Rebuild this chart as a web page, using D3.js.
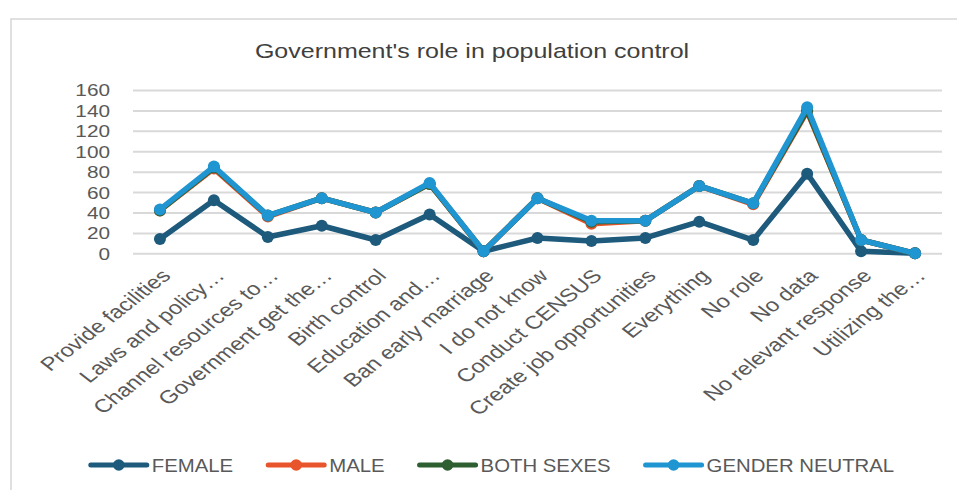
<!DOCTYPE html>
<html>
<head>
<meta charset="utf-8">
<script src="https://cdn.jsdelivr.net/npm/d3@7"></script>
<style>
  html, body { margin: 0; padding: 0; background: #fff; }
  svg { display: block; font-family: "Liberation Sans", Arial, sans-serif; }
</style>
</head>
<body>
<svg id="chart" width="957" height="490"></svg>
<script>
// Responses on the government's role in population control
const categories = [
  "Provide facilities", "Laws and policy…", "Channel resources to…",
  "Government get the…", "Birth control", "Education and…",
  "Ban early marriage", "I do not know", "Conduct CENSUS",
  "Create job opportunities", "Everything", "No role", "No data",
  "No relevant response", "Utilizing the…"
];
const female        = [14, 52, 16, 27, 13, 38, 2, 15, 12, 15, 31, 13, 78, 2, 0];
const male          = [42, 83, 36, 54, 40, 68, 2, 54, 29, 32, 66, 48, 139, 13, 0];
const bothSexes     = [42, 84, 37, 54, 40, 68, 2, 54, 31, 32, 66, 49, 140, 13, 0];
const genderNeutral = [43, 85, 37, 54, 40, 69, 2, 54, 32, 32, 66, 49, 143, 13, 0];
const seriesNames   = ["FEMALE", "MALE", "BOTH SEXES", "GENDER NEUTRAL"];
const yTicks        = [0, 20, 40, 60, 80, 100, 120, 140, 160];
const titleText     = "Government's role in population control";

const seriesColors = ["#1d5a7c", "#e8542b", "#2d5f30", "#1f95d1"];
const seriesValues = [female, male, bothSexes, genderNeutral];

const svg = d3.select("#chart");
const W = 957, H = 490;
const plot = { left: 133, right: 942, top: 90, bottom: 253.3 };

svg.append("rect").attr("width", W).attr("height", H).attr("fill", "#fff");

// chart frame
svg.append("rect")
  .attr("x", 11).attr("y", 19).attr("width", 1000).attr("height", 1000)
  .attr("fill", "none").attr("stroke", "#d9d9d9").attr("stroke-width", 1.6);

// title
svg.append("text")
  .attr("transform", `translate(472,58) scale(1.22,1)`)
  .attr("text-anchor", "middle")
  .attr("font-size", 20.5)
  .attr("fill", "#404040")
  .text(titleText);

const x = d3.scaleBand().domain(categories).range([plot.left, plot.right]);
const y = d3.scaleLinear().domain([0, 160]).range([plot.bottom, plot.top]);

// horizontal gridlines
const yAxis = d3.axisLeft(y).tickValues(yTicks).tickSize(-(plot.right - plot.left)).tickPadding(0);
const gy = svg.append("g").attr("transform", `translate(${plot.left},0)`).call(yAxis);
gy.select(".domain").remove();
gy.selectAll(".tick line").attr("stroke", "#d9d9d9").attr("stroke-width", 2);
gy.selectAll(".tick text")
  .attr("x", null).attr("dy", "0.36em")
  .attr("transform", `translate(-23,0) scale(1.26,1)`)
  .attr("text-anchor", "end")
  .attr("font-size", 16.5)
  .attr("font-family", "Liberation Sans, Arial, sans-serif")
  .attr("fill", "#595959");

// category labels
const xAxis = d3.axisBottom(x).tickSize(0).tickPadding(0);
const gx = svg.append("g").attr("transform", `translate(0,${plot.bottom})`).call(xAxis);
gx.select(".domain").remove();
gx.selectAll(".tick text")
  .attr("y", null).attr("dy", "0.35em")
  .attr("transform", `translate(6,19) scale(1.28,1) rotate(-45)`)
  .attr("text-anchor", "end")
  .attr("font-size", 18.6)
  .attr("font-family", "Liberation Sans, Arial, sans-serif")
  .attr("fill", "#595959");

// series lines and markers
const line = d3.line()
  .x((d, i) => x(categories[i]) + x.bandwidth() / 2)
  .y(d => y(d));

seriesValues.forEach((vals, s) => {
  const g = svg.append("g");
  g.append("path")
    .datum(vals)
    .attr("d", line)
    .attr("fill", "none")
    .attr("stroke", seriesColors[s])
    .attr("stroke-width", 5.5)
    .attr("stroke-linejoin", "round");
  g.selectAll("circle").data(vals).join("circle")
    .attr("cx", (d, i) => x(categories[i]) + x.bandwidth() / 2)
    .attr("cy", d => y(d))
    .attr("r", 6)
    .attr("fill", seriesColors[s]);
});

// legend
const legend = svg.append("g");
const lineLen = 56, textGap = 5, itemGap = 35, legendY = 465;
let cursor = 0;
seriesNames.forEach((name, i) => {
  const item = legend.append("g");
  item.append("line")
    .attr("x1", 0).attr("x2", lineLen).attr("y1", 0).attr("y2", 0)
    .attr("stroke", seriesColors[i]).attr("stroke-width", 5).attr("stroke-linecap", "round");
  item.append("circle").attr("cx", lineLen / 2).attr("cy", 0).attr("r", 5.8).attr("fill", seriesColors[i]);
  const t = item.append("text")
    .attr("transform", `translate(${lineLen + textGap},0) scale(1.1,1)`)
    .attr("dy", "0.36em")
    .attr("font-size", 18.5)
    .attr("fill", "#595959")
    .text(name);
  const w = lineLen + textGap + t.node().getComputedTextLength() * 1.1;
  item.attr("transform", `translate(${cursor},${legendY})`);
  cursor += w + itemGap;
});
const legendWidth = cursor - itemGap;
legend.attr("transform", `translate(${492.5 - legendWidth / 2},0)`);
</script>
</body>
</html>
